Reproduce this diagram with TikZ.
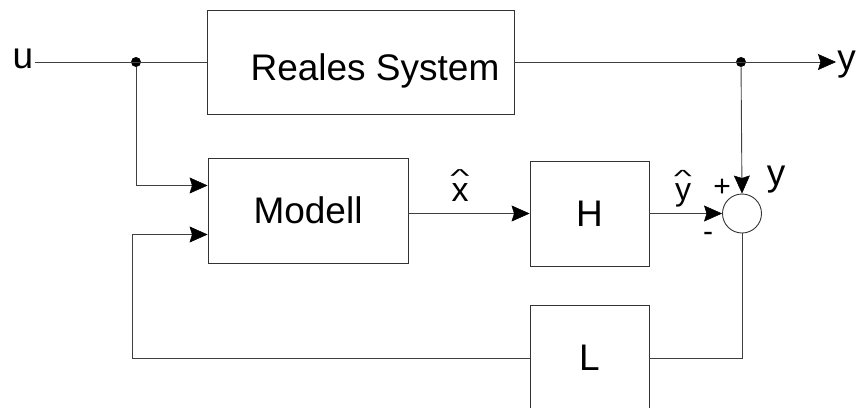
\documentclass[tikz,border=0pt]{standalone}
\usepackage{fontspec}
\setmainfont{Liberation Sans}
\usetikzlibrary{arrows.meta}

\newcommand{\hatmark}{\scalebox{1.2}[0.55]{\textasciicircum}}

\begin{document}
\begin{tikzpicture}[x=1pt,y=-1pt,line width=0.9pt,draw=black!75,
  font=\fontsize{37}{40}\selectfont,
  arr/.style={-{Stealth[length=18pt,width=16pt,inset=2.5pt,color=black,line width=0.5pt]}},
  block/.style={draw=black!80,fill=white,inner sep=0pt,minimum height=105pt},
  lbl/.style={inner sep=1pt},
  hatlbl/.style={inner sep=1pt,align=center,anchor=south},
  sign/.style={inner sep=0pt,font=\fontsize{30}{32}\selectfont},
  dot/.style={circle,fill=black,inner sep=0pt,minimum size=10pt}]
\useasboundingbox (0,0) rectangle (859,407);
\node[block,minimum width=307pt,minimum height=104pt] (rs) at (360.5,62) {};
\node[anchor=base,inner sep=0pt] (rstext) at (375,80) {Reales System};
\node[block,minimum width=200pt] (mod) at (308,210.5) {Modell};
\node[block,minimum width=119pt] (h) at (589.5,213.5) {H};
\node[block,minimum width=119pt,minimum height=106pt] (l) at (589.5,358) {L};
\node[circle,draw=black!80,inner sep=0pt,minimum size=39pt] (sum) at (742,213.5) {};
\node[lbl,anchor=base] (u) at (23,68) {u};
\node[lbl,anchor=base west] (yout) at (836,70) {y};
\node[lbl,anchor=base] (ysum) at (776,185) {y};
\node[hatlbl,font=\fontsize{34}{19}\selectfont] (xhat) at (460,203) {\hatmark\\x};
\node[hatlbl,font=\fontsize{32}{18.5}\selectfont] (yhat) at (683,209) {\hatmark\\y};
\node[sign,anchor=base] (plus) at (722,196) {+};
\node[sign,anchor=base] (minus) at (708,241) {-};
\node[dot] (sp1) at (136,62) {};
\node[dot] (sp2) at (741,62) {};
\coordinate (fb) at (132,358);

\draw (u.east |- sp1) -- (rs.west);
\draw[arr] (rs.east) -- (yout.west |- sp2);
\draw[arr] (sp2) -- (sum.north);
\draw[arr] (sp1) |- ([yshift=25pt]mod.west);
\draw[arr] (mod.east |- h) -- (h.west);
\draw[arr] (h.east) -- (sum.west);
\draw (sum.south) |- (l.east);
\draw[arr] (l.west) -- (fb) |- ([yshift=-24pt]mod.west);
\end{tikzpicture}
\end{document}
